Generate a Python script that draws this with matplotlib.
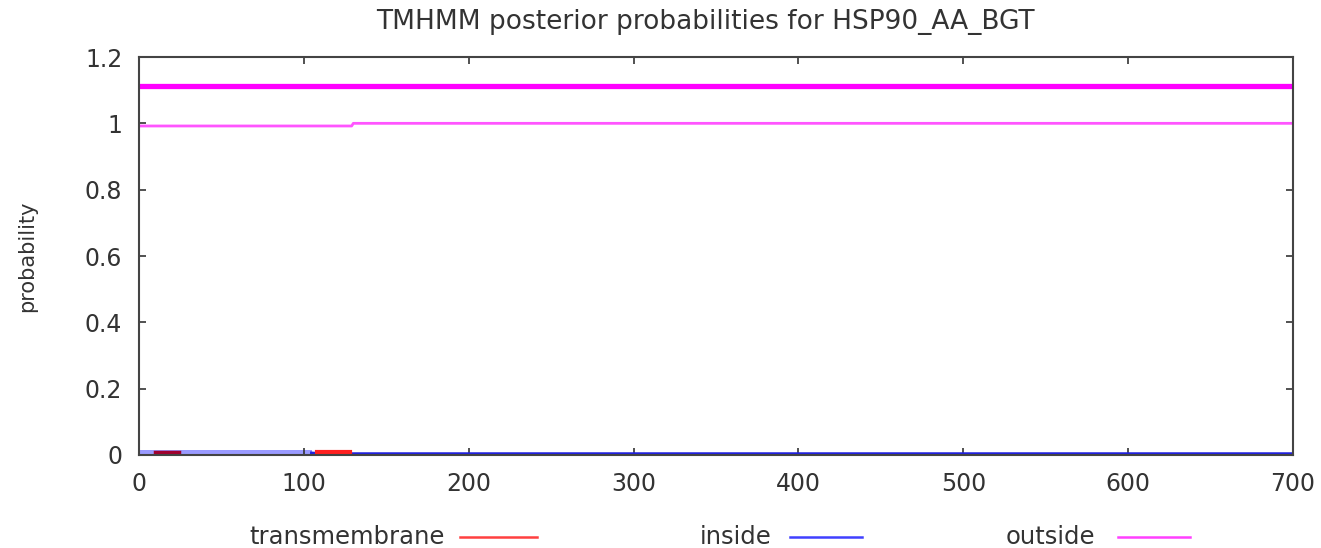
import numpy as np
import matplotlib
matplotlib.use("Agg")
import matplotlib.pyplot as plt
from matplotlib.lines import Line2D

plt.rcParams['font.family'] = ['DejaVu Sans']

# posterior probabilities
pos_out = [1, 129, 130, 700]
p_out = [0.992, 0.992, 1.0, 1.0]
pos_bar = [1, 700]
p_bar = [1.113, 1.113]
pos_in_fill = [0, 105]
p_in_fill = [0.016, 0.016]
pos_in = [105, 110, 700]
p_in = [0.004, 0.002, 0.002]
tm_seg1 = [10, 24]
tm_seg2 = [108, 128]
p_tm1 = [0.008, 0.008]
p_tm2 = [0.01, 0.01]

fig = plt.figure(figsize=(13.21, 5.48), dpi=100)
ax = fig.add_axes([139/1321, 1 - 455/548, (1293-139)/1321, (455-57)/548])

ax.fill_between(pos_in_fill, 0, p_in_fill, color='#9a9aff', lw=0)
ax.plot(pos_in, p_in, color='#2020e0', lw=3)
ax.plot(tm_seg1, p_tm1, color='#a00030', lw=2.5)
ax.plot(tm_seg2, p_tm2, color='#ff2020', lw=3)
ax.plot(pos_out, p_out, color='#ff55ff', lw=2)
ax.plot(pos_bar, p_bar, color='#ff00ff', lw=3.8)

ax.set_xlim(0, 700)
ax.set_ylim(0, 1.2)
ax.set_xticks(np.arange(0, 701, 100))
ax.set_yticks([0, 0.2, 0.4, 0.6, 0.8, 1, 1.2])
ax.set_yticklabels(['0', '0.2', '0.4', '0.6', '0.8', '1', '1.2'])
ax.tick_params(direction='in', length=5, width=1.2, top=True, right=True,
               labelsize=17, colors='#333333', pad=12)
ax.tick_params(axis='x', pad=12)
for s in ax.spines.values():
    s.set_linewidth(1.5)
    s.set_color('#444444')

fig.text(27/1321, 1 - 256/548, 'probability', rotation=90, ha='center', va='center',
         fontsize=15, color='#333333')
fig.text(705/1321, 1 - 22/548, 'TMHMM posterior probabilities for HSP90_AA_BGT',
         ha='center', va='center', fontsize=19, color='#333333')

# legend
labels = ['transmembrane', 'inside', 'outside']
colors = ['#ff4040', '#4040ff', '#ff40ff']
text_right = [445, 772, 1095]
line_span = [(460, 537), (790, 862), (1118, 1190)]
ly = 1 - 537/548
for lab, c, tx, (l0, l1) in zip(labels, colors, text_right, line_span):
    fig.text(tx/1321, ly, lab, ha='right', va='center', fontsize=17.5, color='#333333')
    fig.add_artist(Line2D([l0/1321, l1/1321], [ly, ly], color=c, lw=1.8,
                          transform=fig.transFigure))

fig.savefig('out.png', dpi=100)
